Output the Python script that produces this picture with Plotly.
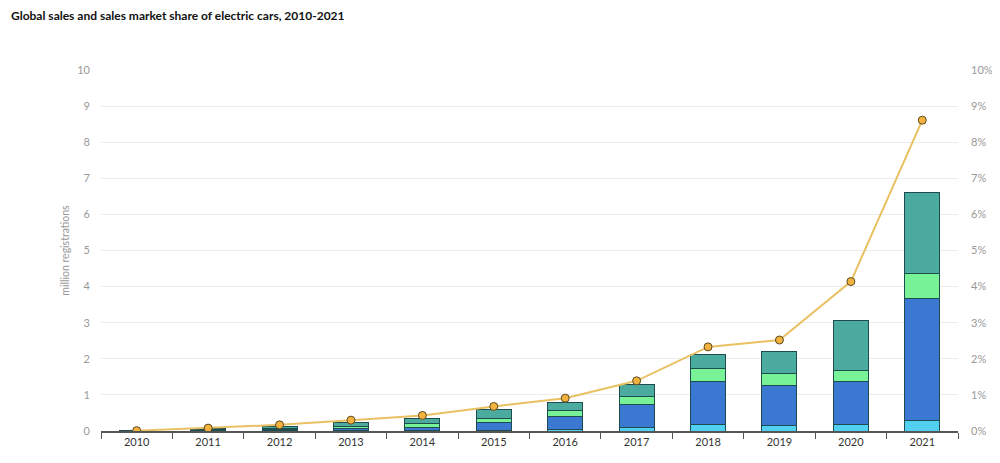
import plotly.graph_objects as go

years = ["2010", "2011", "2012", "2013", "2014", "2015", "2016", "2017", "2018", "2019", "2020", "2021"]
other = [0.002, 0.01, 0.02, 0.02, 0.02, 0.02, 0.03, 0.11, 0.19, 0.16, 0.17, 0.30]
china = [0.002, 0.01, 0.01, 0.04, 0.09, 0.21, 0.38, 0.63, 1.18, 1.10, 1.21, 3.36]
usa = [0.002, 0.02, 0.05, 0.07, 0.10, 0.13, 0.17, 0.21, 0.36, 0.34, 0.29, 0.69]
europe = [0.002, 0.02, 0.05, 0.10, 0.13, 0.23, 0.21, 0.33, 0.40, 0.60, 1.40, 2.27]
share = [0.01, 0.08, 0.17, 0.30, 0.43, 0.68, 0.91, 1.39, 2.33, 2.52, 4.14, 8.61]

y_ticks = list(range(0, 11))
y2_labels = [f"{v}%" for v in y_ticks]

fig = go.Figure()
outline = dict(color="#1d4d4f", width=1)
for name, vals, col in [("Other", other, "#52d0f2"), ("China", china, "#3b78d2"),
                        ("United States", usa, "#78f296"), ("Europe", europe, "#4aab9e")]:
    fig.add_trace(go.Bar(x=years, y=vals, name=name, marker=dict(color=col, line=outline),
                         yaxis="y"))

fig.add_trace(go.Scatter(x=years, y=share, name="Sales share", mode="lines+markers",
                         line=dict(color="#e9c163", width=2),
                         marker=dict(size=8, color="#f3b23e", line=dict(color="#5b4a22", width=1)),
                         yaxis="y2"))

fig.update_layout(
    width=1000, height=463,
    barmode="stack", bargap=0.51,
    showlegend=False,
    paper_bgcolor="white", plot_bgcolor="white",
    margin=dict(l=93, r=50, t=62, b=40, autoexpand=False),
    font=dict(family="Lato", color="#999999", size=11),
    title=dict(text="Global sales and sales market share of electric cars, 2010-2021",
               x=0.003, xanchor="left", y=0.992, yanchor="top", automargin=False,
               font=dict(family="Lato", size=12, color="#111111", weight=700)),
    xaxis=dict(type="category", range=[-0.5, 11.5], showgrid=False, showline=True,
               linecolor="#555555", linewidth=1.5,
               ticks="outside", tickson="boundaries", ticklen=6, tickcolor="#555555",
               automargin=False, layer="above traces",
               tickfont=dict(color="#333333", size=11)),
    yaxis=dict(range=[0, 10], tickvals=y_ticks, showgrid=True, gridcolor="#ececec",
               zeroline=False, showline=False, ticks="", ticklabelstandoff=10, automargin=False,
               title=dict(text="million registrations", font=dict(size=10.5, color="#999999"), standoff=5),
               tickfont=dict(size=11, color="#999999")),
    yaxis2=dict(range=[0, 10], tickvals=y_ticks, ticktext=y2_labels, overlaying="y", side="right",
                showgrid=False, zeroline=False, showline=False, ticklabelstandoff=12, automargin=False,
                tickfont=dict(size=11, color="#999999")),
)

fig.write_html("out.html")
